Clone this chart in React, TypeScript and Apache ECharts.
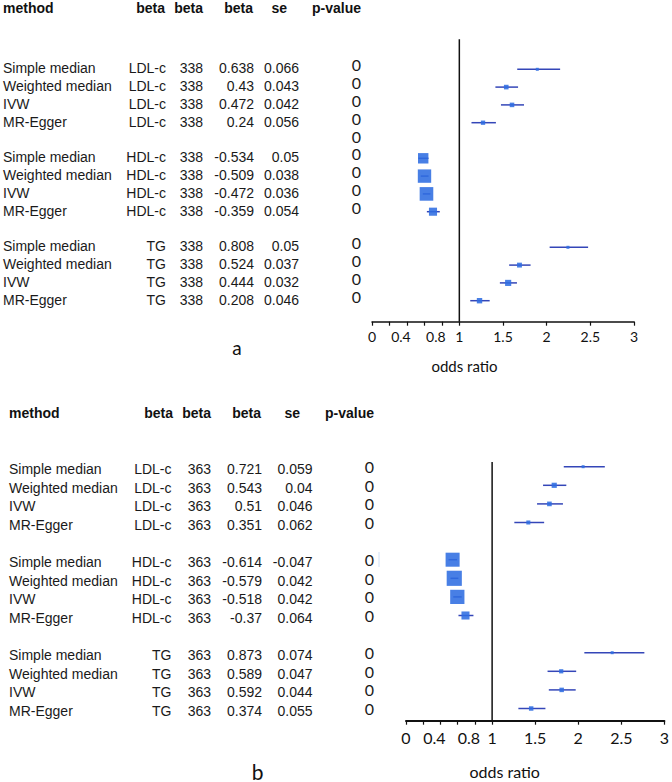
import React, { useEffect, useRef } from "react";
import * as echarts from "echarts";

// ---------- data ----------
const methods = ["Simple median", "Weighted median", "IVW", "MR-Egger"];
const traits = ["LDL-c", "HDL-c", "TG"];
const nA = 338;
const nB = 363;

const betaA_LDL = [0.638, 0.43, 0.472, 0.24];
const seA_LDL = [0.066, 0.043, 0.042, 0.056];
const betaA_HDL = [-0.534, -0.509, -0.472, -0.359];
const seA_HDL = [0.05, 0.038, 0.036, 0.054];
const betaA_TG = [0.808, 0.524, 0.444, 0.208];
const seA_TG = [0.05, 0.037, 0.032, 0.046];

const betaB_LDL = [0.721, 0.543, 0.51, 0.351];
const seB_LDL = [0.059, 0.04, 0.046, 0.062];
const betaB_HDL = [-0.614, -0.579, -0.518, -0.37];
const seB_HDL = [-0.047, 0.042, 0.042, 0.064];
const betaB_TG = [0.873, 0.589, 0.592, 0.374];
const seB_TG = [0.074, 0.047, 0.044, 0.055];

const pValue = "0";
const tickValues = [0, 0.2, 0.4, 0.6, 0.8, 1, 1.5, 2, 2.5, 3];
const tickLabels = [0, 0.4, 0.8, 1, 1.5, 2, 2.5, 3];
const headers = ["method", "beta", "beta", "beta", "se", "p-value"];

// ---------- layout ----------
const TABLE_FONT = "'Liberation Sans', Arial, sans-serif";
const CAL_FONT = "Lato, 'Open Sans', sans-serif";

type Panel = {
  betas: number[][];
  ses: number[][];
  n: number;
  gridLeft: number;
  gridWidth: number;
  gridTop: number;
  axisY: number;
  row0: number;
  step: number;
  boxK: number;
  textDy: number;
  pDy: number;
  colMethod: number;
  colTrait: number;
  colN: number;
  colBeta: number;
  colSe: number;
  colP: number;
  headerY: number;
  headerX: number[]; // method left, beta right x3, se right, p-value left
  extraPRows: number[];
  tickFont: number;
  tickMargin: number;
  axisWidth: number;
  nameX: number;
  nameY: number;
  nameFont: number;
  letter: string;
  letterX: number;
  letterY: number;
  letterFont: number;
};

const panels: Panel[] = [
  {
    betas: [betaA_LDL, betaA_HDL, betaA_TG],
    ses: [seA_LDL, seA_HDL, seA_TG],
    n: nA,
    gridLeft: 372,
    gridWidth: 262,
    gridTop: 39.3,
    axisY: 321.7,
    row0: 69.3,
    step: 17.8,
    boxK: 1.2,
    textDy: -1,
    pDy: -4.5,
    colMethod: 3,
    colTrait: 166,
    colN: 203,
    colBeta: 254,
    colSe: 299,
    colP: 356.5,
    headerY: 8,
    headerX: [3, 165, 203, 253, 287, 312],
    extraPRows: [4],
    tickFont: 14,
    tickMargin: 8,
    axisWidth: 1.5,
    nameX: 464.5,
    nameY: 366,
    nameFont: 15,
    letter: "a",
    letterX: 237,
    letterY: 347,
    letterFont: 19,
  },
  {
    betas: [betaB_LDL, betaB_HDL, betaB_TG],
    ses: [seB_LDL, seB_HDL, seB_TG],
    n: nB,
    gridLeft: 406,
    gridWidth: 260,
    gridTop: 462,
    axisY: 720.7,
    row0: 466.7,
    step: 18.6,
    boxK: 1.4,
    textDy: 2.5,
    pDy: 0,
    colMethod: 9,
    colTrait: 171.5,
    colN: 211,
    colBeta: 262,
    colSe: 312.5,
    colP: 369.5,
    headerY: 412.5,
    headerX: [9, 173, 211, 261, 300, 325],
    extraPRows: [],
    tickFont: 16,
    tickMargin: 9,
    axisWidth: 2,
    nameX: 504.7,
    nameY: 771,
    nameFont: 16,
    letter: "b",
    letterX: 257.5,
    letterY: 771,
    letterFont: 21,
  },
];

function rowIndex(g: number, m: number) {
  return g * 5 + m;
}

export default function App() {
  const ref = useRef<HTMLDivElement>(null);

  useEffect(() => {
    if (!ref.current) return;
    const chart = echarts.init(ref.current, undefined, { renderer: "svg" });

    const grids: any[] = [];
    const xAxes: any[] = [];
    const yAxes: any[] = [];
    const series: any[] = [];
    const graphics: any[] = [];

    panels.forEach((p, pi) => {
      const yMin = -(p.row0 - p.gridTop) / p.step;
      const lastRow = rowIndex(2, 3);
      const yMax = lastRow + (p.axisY - (p.row0 + lastRow * p.step)) / p.step;

      grids.push({
        left: p.gridLeft,
        top: p.gridTop,
        width: p.gridWidth,
        height: p.axisY - p.gridTop,
        containLabel: false,
      });

      xAxes.push({
        type: "value",
        gridIndex: pi,
        min: 0,
        max: 3,
        axisLine: { show: true, onZero: false, lineStyle: { color: "#111", width: p.axisWidth } },
        axisTick: {
          show: true,
          customValues: tickValues,
          length: 4,
          lineStyle: { color: "#111", width: 1.2 },
        },
        axisLabel: {
          show: true,
          customValues: tickLabels,
          margin: p.tickMargin,
          fontFamily: CAL_FONT,
          fontSize: p.tickFont,
          color: "#111",
          formatter: (v: number) =>
            v === 0.4 || v === 0.8 ? `{s|${v}}` : String(v),
          rich: {
            s: {
              fontFamily: CAL_FONT,
              fontSize: p.tickFont,
              color: "#111",
              padding: [0, 12, 0, 0],
            },
          },
        },
        splitLine: { show: false },
      });

      yAxes.push({
        type: "value",
        gridIndex: pi,
        inverse: true,
        min: yMin,
        max: yMax,
        show: false,
        splitLine: { show: false },
      });

      // reference line at OR = 1
      series.push({
        type: "line",
        xAxisIndex: pi,
        yAxisIndex: pi,
        data: [
          [1, yMin],
          [1, yMax],
        ],
        symbol: "none",
        lineStyle: { color: "#111", width: 1.5 },
        silent: true,
        z: 1,
      });

      // forest points
      const data: number[][] = [];
      p.betas.forEach((arr, g) => {
        arr.forEach((b, m) => {
          const se = p.ses[g][m];
          const or = Math.exp(b);
          const a1 = Math.exp(b - 1.96 * se);
          const a2 = Math.exp(b + 1.96 * se);
          const lo = Math.min(a1, a2);
          const hi = Math.max(a1, a2);
          const size = Math.max(3, Math.min(16, p.boxK / (hi - lo)));
          data.push([rowIndex(g, m), or, lo, hi, size]);
        });
      });

      series.push({
        type: "custom",
        xAxisIndex: pi,
        yAxisIndex: pi,
        encode: { x: [1, 2, 3], y: 0 },
        data,
        z: 3,
        renderItem: (params: any, api: any) => {
          const y = api.value(0);
          const or = api.value(1);
          const lo = api.value(2);
          const hi = api.value(3);
          const s = api.value(4);
          const c = api.coord([or, y]);
          const l = api.coord([lo, y]);
          const h = api.coord([hi, y]);
          return {
            type: "group",
            children: [
              {
                type: "line",
                shape: { x1: l[0], y1: l[1], x2: h[0], y2: h[1] },
                style: { stroke: "#3446b8", lineWidth: 1.5 },
              },
              {
                type: "rect",
                shape: { x: c[0] - s / 2, y: c[1] - s / 2, width: s, height: s },
                style: { fill: "#2f6de1", opacity: 0.88 },
              },
            ],
          };
        },
      });

      // ---------- table ----------
      const hdrStyle = (text: string, x: number, align: string) => ({
        type: "text",
        x,
        y: p.headerY,
        style: {
          text,
          fontFamily: TABLE_FONT,
          fontSize: 14,
          fontWeight: "bold",
          fill: "#111",
          align,
          verticalAlign: "middle",
        },
      });
      graphics.push(hdrStyle(headers[0], p.headerX[0], "left"));
      graphics.push(hdrStyle(headers[1], p.headerX[1], "right"));
      graphics.push(hdrStyle(headers[2], p.headerX[2], "right"));
      graphics.push(hdrStyle(headers[3], p.headerX[3], "right"));
      graphics.push(hdrStyle(headers[4], p.headerX[4], "right"));
      graphics.push(hdrStyle(headers[5], p.headerX[5], "left"));

      const cell = (text: string, x: number, y: number, align: string) => ({
        type: "text",
        x,
        y,
        style: {
          text,
          fontFamily: TABLE_FONT,
          fontSize: 14,
          fill: "#1a1a1a",
          align,
          verticalAlign: "middle",
        },
      });
      const pCell = (y: number) => ({
        type: "text",
        x: p.colP,
        y,
        style: {
          text: pValue,
          fontFamily: CAL_FONT,
          fontSize: 16,
          fill: "#1a1a1a",
          align: "center",
          verticalAlign: "middle",
        },
      });

      p.betas.forEach((arr, g) => {
        arr.forEach((b, m) => {
          const r = rowIndex(g, m);
          const ry = p.row0 + r * p.step;
          const y = ry + p.textDy;
          graphics.push(cell(methods[m], p.colMethod, y, "left"));
          graphics.push(cell(traits[g], p.colTrait, y, "right"));
          graphics.push(cell(String(p.n), p.colN, y, "right"));
          graphics.push(cell(String(b), p.colBeta, y, "right"));
          graphics.push(cell(String(p.ses[g][m]), p.colSe, y, "right"));
          graphics.push(pCell(ry + p.pDy));
        });
      });
      p.extraPRows.forEach((r) => {
        graphics.push(pCell(p.row0 + r * p.step + p.pDy));
      });

      graphics.push({
        type: "text",
        x: p.nameX,
        y: p.nameY,
        style: {
          text: "odds ratio",
          fontFamily: CAL_FONT,
          fontSize: p.nameFont,
          fill: "#111",
          align: "center",
          verticalAlign: "middle",
        },
      });
      graphics.push({
        type: "text",
        x: p.letterX,
        y: p.letterY,
        style: {
          text: p.letter,
          fontFamily: CAL_FONT,
          fontSize: p.letterFont,
          fill: "#111",
          align: "center",
          verticalAlign: "middle",
        },
      });
    });

    // faint mark next to a p-value in panel b
    graphics.push({
      type: "line",
      shape: { x1: 379, y1: 552, x2: 379, y2: 567 },
      style: { stroke: "#cfe0f6", lineWidth: 1 },
    });

    chart.setOption({
      animation: false,
      backgroundColor: "#ffffff",
      grid: grids,
      xAxis: xAxes,
      yAxis: yAxes,
      series,
      graphic: graphics,
    });

    return () => chart.dispose();
  }, []);

  return (
    <div
      ref={ref}
      style={{ position: "fixed", left: 0, top: 0, width: 672, height: 782, background: "#fff" }}
    />
  );
}
